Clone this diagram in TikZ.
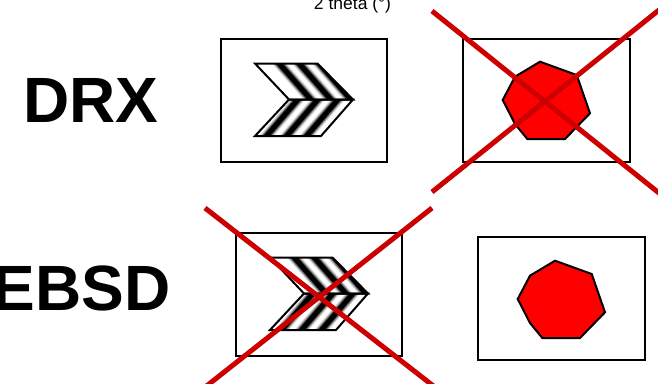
\documentclass[tikz,border=0pt]{standalone}
\usepackage{fontspec}
\setmainfont{Liberation Sans}
\begin{document}
\begin{tikzpicture}[x=1pt, y=-1pt,
  box/.style={draw, line width=2pt, fill=white, minimum width=166.5pt,
              minimum height=123pt, inner sep=0pt},
  title/.style={font=\bfseries\fontsize{64}{64}\selectfont, inner sep=0pt},
  outline/.style={line width=2pt, line join=miter},
  cross/.style={line width=5pt, draw=crossred}
]
\definecolor{crossred}{HTML}{CC0000}
\clip (0,0) rectangle (658,383);
\node[font=\fontsize{17.5}{17.5}\selectfont, anchor=base, inner sep=0pt] (axis) at (352.5,9.5) {2 theta (°)};
\node[title, anchor=base west] (drx) at (23,122.7) {DRX};
\node[title, anchor=base east] (ebsd) at (171,310) {EBSD};
\node[box] (boxa) at (304.2,100) {};
\node[box] (boxb) at (546.3,100) {};
\node[box] (boxc) at (319.2,294) {};
\node[box] (boxd) at (561.3,298.8) {};
% striped chevrons
\foreach \dx/\dy in {0/0, 15/194} {
  \begin{scope}[shift={(\dx,\dy)}]
    \begin{scope}
      \clip (255,63.5) -- (317.5,63.5) -- (353,99.5) -- (289,99.5) -- cycle;
      \foreach \w/\c in {11/12, 9/35, 7/65, 5/100} {
        \foreach \s in {0,20,40} {
          \draw[line width=\w pt, black!\c] (277+\s,61) -- (313+\s,102);
        }
      }
    \end{scope}
    \begin{scope}
      \clip (289,99.5) -- (353,99.5) -- (321,136) -- (255,136) -- cycle;
      \foreach \w/\c in {11/12, 9/35, 7/65, 5/100} {
        \foreach \s in {0,20,40} {
          \draw[line width=\w pt, black!\c] (300+\s,97) -- (264+\s,139);
        }
      }
    \end{scope}
    \draw[outline] (255,63.5) -- (317.5,63.5) -- (353,99.5) -- (289,99.5) -- cycle;
    \draw[outline] (289,99.5) -- (353,99.5) -- (321,136) -- (255,136) -- cycle;
  \end{scope}
}
% red polygons
\foreach \dx/\dy in {0/0, 15/199} {
  \draw[outline, fill=red, shift={(\dx,\dy)}] (540,61.7) -- (576.7,75) -- (590,113.3) -- (565,139)
    -- (527.3,139) -- (515,124) -- (502.7,100) -- (515,76.7) -- cycle;
}
% crossing out
\draw[cross] (432,11) -- (664,197);
\draw[cross] (432,192) -- (664,6);
\draw[cross] (205,208) -- (436,388);
\draw[cross] (432,208) -- (204,388);
\end{tikzpicture}
\end{document}
